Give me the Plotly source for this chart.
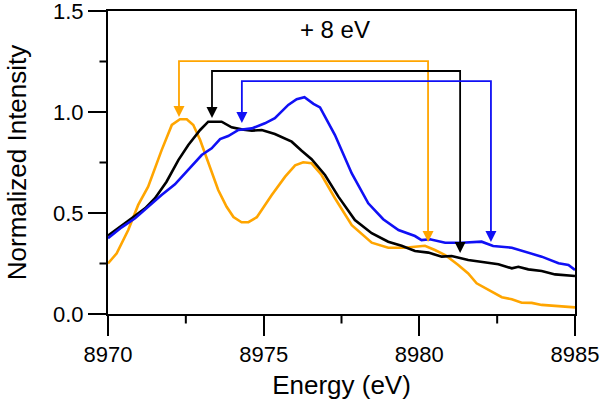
import plotly.graph_objects as go

# ---- data ----
orange_E = [8970.0, 8970.28, 8970.65, 8970.97, 8971.29, 8971.72, 8972.05, 8972.31, 8972.53, 8972.74,
            8972.96, 8973.22, 8973.54, 8973.81, 8974.03, 8974.29, 8974.51, 8974.78, 8975.04, 8975.26,
            8975.69, 8976.01, 8976.27, 8976.54, 8976.86, 8977.29, 8977.83, 8978.47, 8979.0, 8979.54,
            8979.86, 8980.18, 8980.50, 8980.83, 8981.25, 8981.57, 8981.84, 8982.22, 8982.65, 8982.97,
            8983.29, 8983.61, 8983.93, 8984.36, 8985.0]
orange_I = [0.25, 0.30, 0.416, 0.54, 0.63, 0.81, 0.936, 0.964, 0.964, 0.936,
            0.861, 0.746, 0.614, 0.531, 0.48, 0.454, 0.455, 0.479, 0.54, 0.589,
            0.68, 0.736, 0.751, 0.746, 0.688, 0.573, 0.44, 0.353, 0.328, 0.328,
            0.333, 0.338, 0.317, 0.292, 0.243, 0.201, 0.152, 0.119, 0.083, 0.073,
            0.056, 0.055, 0.045, 0.04, 0.033]

black_E = [8970.0, 8970.33, 8970.76, 8971.19, 8971.51, 8971.88, 8972.26, 8972.58, 8972.96, 8973.22,
           8973.65, 8973.97, 8974.29, 8974.62, 8974.94, 8975.36, 8975.90, 8976.22, 8976.54, 8976.97,
           8977.40, 8977.93, 8978.47, 8979.0, 8979.43, 8979.86, 8980.29, 8980.72, 8981.04, 8981.57,
           8982.0, 8982.54, 8982.97, 8983.18, 8983.5, 8983.93, 8984.36, 8985.0]
black_I = [0.388, 0.424, 0.474, 0.523, 0.573, 0.655, 0.762, 0.837, 0.911, 0.952,
           0.952, 0.924, 0.914, 0.908, 0.911, 0.891, 0.853, 0.808, 0.766, 0.688,
           0.581, 0.465, 0.40, 0.358, 0.338, 0.312, 0.304, 0.284, 0.287, 0.267,
           0.259, 0.246, 0.226, 0.234, 0.221, 0.213, 0.196, 0.188]

blue_E = [8970.0, 8970.44, 8970.87, 8971.29, 8971.72, 8972.15, 8972.58, 8973.01, 8973.33, 8973.60,
          8973.86, 8974.19, 8974.62, 8975.04, 8975.36, 8975.79, 8976.06, 8976.31, 8976.60, 8976.81,
          8977.29, 8977.83, 8978.36, 8978.84, 8979.33, 8979.86, 8980.07, 8980.34, 8980.83, 8981.36,
          8982.0, 8982.37, 8982.97, 8983.39, 8983.93, 8984.47, 8984.79, 8985.0]
blue_I = [0.375, 0.429, 0.474, 0.531, 0.589, 0.642, 0.713, 0.787, 0.82, 0.866,
          0.881, 0.911, 0.919, 0.944, 0.969, 1.035, 1.063, 1.073, 1.04, 1.023,
          0.886, 0.696, 0.548, 0.469, 0.416, 0.386, 0.366, 0.37, 0.353, 0.353,
          0.358, 0.337, 0.328, 0.308, 0.284, 0.251, 0.243, 0.218]

# "+8 eV" shift markers: left peak, shifted position, bracket height, tips
arrow_names = ["orange", "black", "blue"]
arrow_left_E = [8972.28, 8973.34, 8974.30]
arrow_right_E = [8980.28, 8981.31, 8982.30]
arrow_top_I = [1.252, 1.203, 1.153]
arrow_left_tip = [0.975, 0.970, 0.946]
arrow_right_tip = [0.356, 0.302, 0.356]

shift_label = "+ 8 eV"
shift_label_pos = (8977.29, 1.396)

x_range = [8970, 8985]
y_range = [0.0, 1.5]
x_major_ticks = [8970, 8975, 8980, 8985]
x_minor_ticks = [8972.5, 8977.5, 8982.5]
y_major_ticks = [0.0, 0.5, 1.0, 1.5]
y_minor_ticks = [0.25, 0.75, 1.25]
x_title = "Energy (eV)"
y_title = "Normalized Intensity"

# ---- styles ----
colors = {"orange": "#FFA500", "black": "#000000", "blue": "#1010F5"}
FONT = "Liberation Sans, Arial, Helvetica, sans-serif"
X_MAJOR_LEN, X_MINOR_LEN = 20, 10
Y_MAJOR_LEN, Y_MINOR_LEN = 18, 9

fig = go.Figure()

for name, E, I in [("orange", orange_E, orange_I), ("black", black_E, black_I), ("blue", blue_E, blue_I)]:
    fig.add_trace(go.Scatter(x=E, y=I, mode="lines", line=dict(color=colors[name], width=2.6),
                             showlegend=False, hoverinfo="skip"))

for i, name in enumerate(arrow_names):
    c = colors[name]
    fig.add_trace(go.Scatter(
        x=[arrow_left_E[i], arrow_left_E[i], arrow_right_E[i], arrow_right_E[i]],
        y=[arrow_left_tip[i] + 0.03, arrow_top_I[i], arrow_top_I[i], arrow_right_tip[i] + 0.03],
        mode="lines", line=dict(color=c, width=1.8), showlegend=False, hoverinfo="skip"))
    fig.add_trace(go.Scatter(
        x=[arrow_left_E[i], arrow_right_E[i]], y=[arrow_left_tip[i], arrow_right_tip[i]],
        mode="markers", marker=dict(symbol="arrow-down", size=11, color=c, line=dict(width=0)),
        showlegend=False, hoverinfo="skip", cliponaxis=False))

fig.add_trace(go.Scatter(x=[shift_label_pos[0]], y=[shift_label_pos[1]], mode="text",
                         text=[shift_label], textposition="middle center",
                         textfont=dict(family=FONT, size=24, color="black"),
                         showlegend=False, hoverinfo="skip"))

# minor tick marks (pixel-length strokes anchored on the minor tick values)
tick_marks = []
def tick(xref, x, yref, y, ax, ay):
    tick_marks.append(dict(xref=xref, x=x, yref=yref, y=y, ax=ax, ay=ay, axref="pixel", ayref="pixel",
                           text="", showarrow=True, arrowhead=0, arrowwidth=2, arrowcolor="black",
                           standoff=0, startstandoff=0, font=dict(size=1), borderpad=0))
for v in x_minor_ticks:
    tick("x", v, "paper", 0, 0, X_MINOR_LEN)
for v in y_minor_ticks:
    tick("paper", 0, "y", v, -Y_MINOR_LEN, 0)

fig.update_layout(
    width=600, height=404,
    margin=dict(l=108, r=25, t=11, b=90, autoexpand=False),
    paper_bgcolor="white", plot_bgcolor="white",
    font=dict(family=FONT, color="black"),
    annotations=tick_marks,
    xaxis=dict(range=x_range, tickmode="array", tickvals=x_major_ticks,
               ticktext=[str(v) for v in x_major_ticks], fixedrange=True,
               ticks="outside", ticklen=X_MAJOR_LEN, tickwidth=2, tickcolor="black",
               showline=True, linewidth=2, linecolor="black", mirror=True,
               showgrid=False, zeroline=False, automargin=False, ticklabeloverflow="allow",
               tickfont=dict(family=FONT, size=22, color="black"),
               title=dict(text=x_title, font=dict(family=FONT, size=26, color="black"), standoff=9)),
    yaxis=dict(range=y_range, tickmode="array", tickvals=y_major_ticks,
               ticktext=["%.1f" % v for v in y_major_ticks], fixedrange=True,
               ticks="outside", ticklen=Y_MAJOR_LEN, tickwidth=2, tickcolor="black",
               showline=True, linewidth=2, linecolor="black", mirror=True,
               showgrid=False, zeroline=False, automargin=False, ticklabeloverflow="allow",
               tickfont=dict(family=FONT, size=22, color="black"),
               title=dict(text=y_title, font=dict(family=FONT, size=26, color="black"), standoff=19)),
)

fig.write_html("out.html", config={"displayModeBar": False, "staticPlot": True},
               post_script="document.body.style.margin='0';")
